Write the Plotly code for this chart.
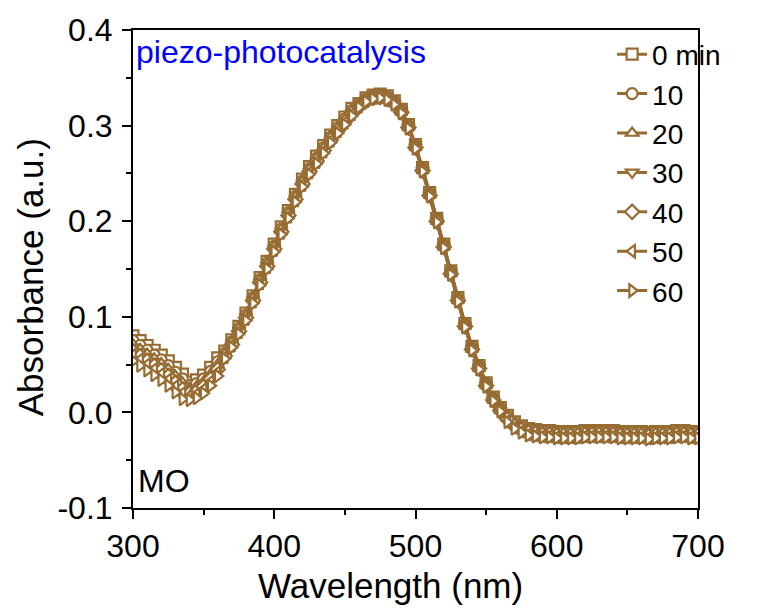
import plotly.graph_objects as go

wavelength = list(range(300, 705, 5))

abs_0 = [0.080,0.075,0.070,0.065,0.060,0.054,0.047,0.040,
         0.032,0.034,0.039,0.047,0.057,
         0.064,0.076,0.090,0.104,0.122,0.141,0.158,0.176,0.194,0.211,0.228,0.244,0.257,0.268,0.279,0.290,0.300,0.309,0.318,
         0.323,0.329,0.332,0.333,0.331,0.326,0.317,0.301,0.280,0.256,0.230,0.203,0.176,0.148,0.120,0.093,0.069,0.049,0.031,0.016,0.005,
         -0.003,-0.010,-0.014,-0.017,-0.018,-0.019,-0.019,-0.020,-0.020,-0.020,-0.020,-0.019,-0.019,-0.019,-0.019,-0.019,-0.020,-0.020,-0.020,-0.020,-0.021,-0.020,-0.020,-0.020,-0.019,-0.019,-0.020,-0.020]
abs_10 = [0.075,0.070,0.065,0.060,0.055,0.049,0.042,0.035,
          0.028,0.030,0.035,0.043,0.053,
          0.062,0.074,0.088,0.102,0.120,0.139,0.156,0.174,0.192,0.209,0.226,0.242,0.255,0.266,0.277,0.288,0.298,0.307,0.316,
          0.322,0.328,0.331,0.332,0.330,0.325,0.316,0.300,0.279,0.255,0.229,0.202,0.175,0.147,0.119,0.092,0.068,0.048,0.030,0.015,0.004,
          -0.004,-0.011,-0.015,-0.018,-0.019,-0.020,-0.020,-0.021,-0.021,-0.021,-0.021,-0.020,-0.020,-0.020,-0.020,-0.020,-0.021,-0.021,-0.021,-0.021,-0.022,-0.021,-0.021,-0.021,-0.020,-0.020,-0.021,-0.021]
abs_20 = [0.071,0.066,0.061,0.056,0.051,0.045,0.038,0.031,
          0.025,0.027,0.032,0.040,0.050,
          0.061,0.073,0.087,0.101,0.119,0.138,0.155,0.173,0.191,0.208,0.225,0.241,0.254,0.265,0.276,0.287,0.297,0.306,0.315,
          0.321,0.327,0.330,0.331,0.329,0.324,0.315,0.299,0.278,0.254,0.228,0.201,0.174,0.146,0.118,0.091,0.067,0.047,0.029,0.014,0.003,
          -0.005,-0.012,-0.016,-0.019,-0.020,-0.021,-0.021,-0.022,-0.022,-0.022,-0.022,-0.021,-0.021,-0.021,-0.021,-0.021,-0.022,-0.022,-0.022,-0.022,-0.023,-0.022,-0.022,-0.022,-0.021,-0.021,-0.022,-0.022]
abs_30 = [0.068,0.063,0.058,0.053,0.048,0.042,0.035,0.028,
          0.023,0.025,0.030,0.038,0.048,
          0.060,0.072,0.086,0.100,0.118,0.137,0.154,0.172,0.190,0.207,0.224,0.240,0.253,0.264,0.275,0.286,0.296,0.305,0.314,
          0.321,0.327,0.330,0.331,0.329,0.324,0.315,0.299,0.278,0.254,0.228,0.201,0.174,0.146,0.118,0.091,0.067,0.047,0.029,0.014,0.003,
          -0.006,-0.013,-0.017,-0.020,-0.021,-0.022,-0.022,-0.023,-0.023,-0.023,-0.023,-0.022,-0.022,-0.022,-0.022,-0.022,-0.023,-0.023,-0.023,-0.023,-0.024,-0.023,-0.023,-0.023,-0.022,-0.022,-0.023,-0.023]
abs_40 = [0.064,0.059,0.054,0.049,0.044,0.038,0.031,0.024,
          0.020,0.022,0.027,0.035,0.045,
          0.059,0.071,0.085,0.099,0.117,0.136,0.153,0.171,0.189,0.206,0.223,0.239,0.252,0.263,0.274,0.285,0.295,0.304,0.313,
          0.320,0.326,0.329,0.330,0.328,0.323,0.314,0.298,0.277,0.253,0.227,0.200,0.173,0.145,0.117,0.090,0.066,0.046,0.028,0.013,0.002,
          -0.007,-0.014,-0.018,-0.021,-0.022,-0.023,-0.023,-0.024,-0.024,-0.024,-0.024,-0.023,-0.023,-0.023,-0.023,-0.023,-0.024,-0.024,-0.024,-0.024,-0.025,-0.024,-0.024,-0.024,-0.023,-0.023,-0.024,-0.024]
abs_50 = [0.060,0.055,0.050,0.045,0.040,0.034,0.027,0.020,
          0.017,0.019,0.024,0.032,0.042,
          0.058,0.070,0.084,0.098,0.116,0.135,0.152,0.170,0.188,0.205,0.222,0.238,0.251,0.262,0.273,0.284,0.294,0.303,0.312,
          0.320,0.326,0.329,0.330,0.328,0.323,0.314,0.298,0.277,0.253,0.227,0.200,0.173,0.145,0.117,0.090,0.066,0.046,0.028,0.013,0.002,
          -0.009,-0.016,-0.020,-0.023,-0.024,-0.025,-0.025,-0.026,-0.026,-0.026,-0.026,-0.025,-0.025,-0.025,-0.025,-0.025,-0.026,-0.026,-0.026,-0.026,-0.027,-0.026,-0.026,-0.026,-0.025,-0.025,-0.026,-0.026]
abs_60 = [0.054,0.049,0.044,0.039,0.034,0.028,0.021,0.014,
          0.013,0.015,0.020,0.028,0.038,
          0.056,0.068,0.082,0.096,0.114,0.133,0.150,0.168,0.186,0.203,0.220,0.236,0.249,0.260,0.271,0.282,0.292,0.301,0.310,
          0.319,0.325,0.328,0.329,0.327,0.322,0.313,0.297,0.276,0.252,0.226,0.199,0.172,0.144,0.116,0.089,0.065,0.045,0.027,0.012,0.001,
          -0.010,-0.017,-0.021,-0.024,-0.025,-0.026,-0.026,-0.027,-0.027,-0.027,-0.027,-0.026,-0.026,-0.026,-0.026,-0.026,-0.027,-0.027,-0.027,-0.027,-0.028,-0.027,-0.027,-0.027,-0.026,-0.026,-0.027,-0.027]

series_names = ["0 min", "10", "20", "30", "40", "50", "60"]
series_values = [abs_0, abs_10, abs_20, abs_30, abs_40, abs_50, abs_60]
symbols = ["square", "circle", "triangle-up", "triangle-down", "diamond", "triangle-left", "triangle-right"]

x_tickvals = [300, 400, 500, 600, 700]
x_ticktext = ["300", "400", "500", "600", "700"]
y_tickvals = [-0.1, 0.0, 0.1, 0.2, 0.3, 0.4]
y_ticktext = ["-0.1", "0.0", "0.1", "0.2", "0.3", "0.4"]

BROWN = "#976C33"
FONT = "Liberation Sans, Arial, sans-serif"

fig = go.Figure()
for name, vals, sym in zip(series_names, series_values, symbols):
    fig.add_trace(go.Scatter(
        x=wavelength, y=vals, name=name, mode="lines+markers",
        line=dict(color=BROWN, width=3),
        marker=dict(symbol=sym, size=11, color="white",
                    line=dict(color=BROWN, width=2.2)),
    ))

axis_common = dict(
    showline=True, linecolor="black", linewidth=2, mirror=True,
    ticks="outside", ticklen=9, tickwidth=2, tickcolor="black",
    showgrid=False, zeroline=False, automargin=False,
    tickfont=dict(family=FONT, size=32, color="black"),
)

fig.update_xaxes(
    range=[300, 700], tickvals=x_tickvals, ticktext=x_ticktext,
    minor=dict(ticks="outside", ticklen=5, tickwidth=2, dtick=50, tick0=300, tickcolor="black"),
    ticklabelstandoff=0,
    **axis_common,
)
fig.update_yaxes(
    range=[-0.1, 0.4], tickvals=y_tickvals, ticktext=y_ticktext,
    minor=dict(ticks="outside", ticklen=5, tickwidth=2, dtick=0.05, tick0=0, tickcolor="black"),
    ticklabelstandoff=3,
    **axis_common,
)

fig.update_layout(
    width=764, height=604,
    margin=dict(l=125, r=74, t=22, b=104),
    paper_bgcolor="white", plot_bgcolor="white",
    showlegend=True,
    legend=dict(x=0.848, y=1.001, xanchor="left", yanchor="top",
                bgcolor="rgba(0,0,0,0)", borderwidth=0,
                font=dict(family=FONT, size=28, color="black"),
                tracegroupgap=0, itemwidth=30),
    annotations=[
        dict(text="Wavelength (nm)", xref="paper", yref="paper", x=0.455, y=-0.162,
             xanchor="center", yanchor="middle", showarrow=False,
             font=dict(family=FONT, size=35, color="black")),
        dict(text="Absorbance (a.u.)", xref="paper", yref="paper", x=-0.182, y=0.483,
             xanchor="center", yanchor="middle", showarrow=False, textangle=-90,
             font=dict(family=FONT, size=35, color="black")),
        dict(text="piezo-photocatalysis", xref="paper", yref="paper", x=0.0, y=0.995,
             xanchor="left", yanchor="top", showarrow=False, xshift=1,
             font=dict(family=FONT, size=32, color="#0000FF")),
        dict(text="MO", xref="paper", yref="paper", x=0.0, y=0.015,
             xanchor="left", yanchor="bottom", showarrow=False, xshift=3,
             font=dict(family=FONT, size=32, color="black")),
    ],
)

fig.write_html("out.html")
